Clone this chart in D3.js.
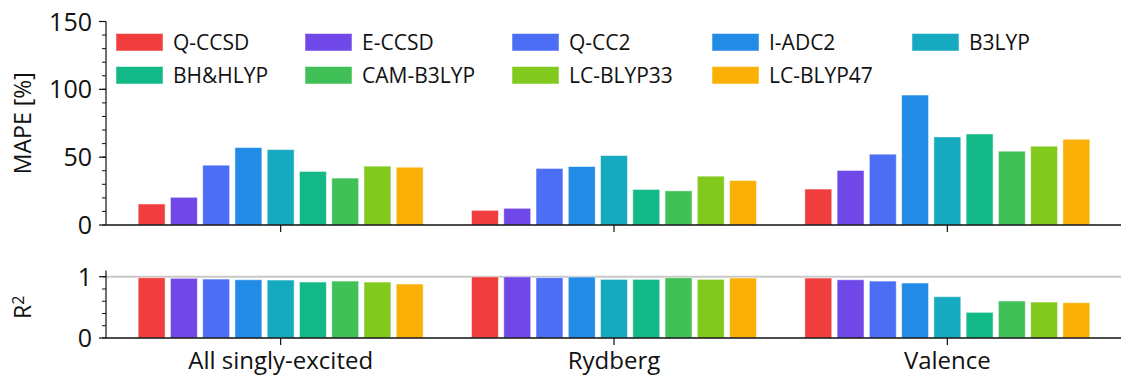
<!DOCTYPE html>
<html><head><meta charset="utf-8">
<script src="https://cdn.jsdelivr.net/npm/d3@7"></script>
<style>body{margin:0;background:#fff}svg{display:block}text{font-family:"Open Sans","Noto Sans",sans-serif;fill:#111}</style>
</head><body><svg id="c" width="1121" height="377"></svg>
<script>
const categories = ["All singly-excited", "Rydberg", "Valence"];
const methods = ["Q-CCSD","E-CCSD","Q-CC2","I-ADC2","B3LYP","BH&HLYP","CAM-B3LYP","LC-BLYP33","LC-BLYP47"];
const colors = ["#f03e3e","#7048e8","#4c6ef5","#228be6","#15aabf","#12b886","#40c057","#82c91e","#fab005"];
const mape = [
  [15.5, 20.4, 44.1, 57.1, 55.6, 39.5, 34.6, 43.4, 42.6],
  [10.8, 12.3, 41.7, 43.1, 51.2, 26.2, 25.2, 36.0, 32.8],
  [26.5, 40.2, 52.2, 95.8, 64.9, 67.1, 54.4, 58.1, 63.2]
];
const r2 = [
  [0.984, 0.974, 0.962, 0.951, 0.946, 0.913, 0.929, 0.913, 0.881],
  [0.998, 0.998, 0.985, 0.995, 0.957, 0.957, 0.984, 0.957, 0.979],
  [0.979, 0.951, 0.929, 0.897, 0.674, 0.419, 0.604, 0.587, 0.576]
];
const mapeTicks = [0, 50, 100, 150];
const r2Ticks = [0, 1];

const svg = d3.select("#c");
const axisX = 106, rightX = 1121;
const x0 = d3.scaleBand().domain(categories).range([114, 1114]).paddingInner(0).paddingOuter(0);
const x1 = d3.scaleBand().domain(methods).range([x0.bandwidth()/2 - 142.5, x0.bandwidth()/2 + 142.5]).paddingInner(0.165).paddingOuter(0);

const yTop = d3.scaleLinear().domain([0, 150]).range([225, 21.5]);
const yBot = d3.scaleLinear().domain([0, 1.1]).range([338, 270.6]);

function panel(y, data, majorTicks, minorTicks, domainTop) {
  const g = svg.append("g");
  categories.forEach((c, ci) => {
    const gg = g.append("g").attr("transform", `translate(${x0(c)},0)`);
    gg.selectAll("rect").data(data[ci]).join("rect")
      .attr("x", (d, i) => x1(methods[i]))
      .attr("width", x1.bandwidth())
      .attr("y", d => y(d))
      .attr("height", d => y(0) - y(d))
      .attr("fill", (d, i) => colors[i])
      .attr("stroke", "rgba(255,255,255,0.5)").attr("stroke-width", 1);
  });
  const ax = g.append("g").attr("transform", `translate(${axisX},0)`);
  ax.append("line").attr("x1", 0).attr("x2", 0).attr("y1", y(0)).attr("y2", y(domainTop)).attr("stroke", "#111").attr("stroke-width", 1.2);
  ax.selectAll("line.mn").data(minorTicks).join("line").attr("class","mn")
    .attr("x1", -4).attr("x2", 0).attr("y1", d => y(d)).attr("y2", d => y(d)).attr("stroke", "#111");
  ax.selectAll("line.mj").data(majorTicks).join("line").attr("class","mj")
    .attr("x1", -7).attr("x2", 0).attr("y1", d => y(d)).attr("y2", d => y(d)).attr("stroke", "#111").attr("stroke-width", 1.2);
  ax.selectAll("text").data(majorTicks).join("text")
    .attr("x", -14).attr("y", d => y(d)).attr("dy", "0.36em").attr("text-anchor", "end")
    .style("font-size", "25px").text(d => d);
  g.append("line").attr("x1", axisX).attr("x2", rightX).attr("y1", y(0)).attr("y2", y(0)).attr("stroke", "#111").attr("stroke-width", 1.5);
  g.selectAll("line.xt").data(categories).join("line").attr("class","xt")
    .attr("x1", d => x0(d) + x0.bandwidth()/2).attr("x2", d => x0(d) + x0.bandwidth()/2)
    .attr("y1", y(0)).attr("y2", y(0) + 7).attr("stroke", "#111").attr("stroke-width", 1.2);
  return g;
}

svg.append("line").attr("x1", axisX).attr("x2", rightX).attr("y1", yBot(1)).attr("y2", yBot(1))
  .attr("stroke", "#c8c8c8").attr("stroke-width", 2);

panel(yTop, mape, mapeTicks, d3.range(0, 151, 10), 150);
panel(yBot, r2, r2Ticks, d3.range(0, 1.01, 0.2), 1.1);

svg.append("text").attr("transform", `translate(31,${yTop(75)}) rotate(-90)`).attr("text-anchor", "middle")
  .style("font-size", "23px").text("MAPE [%]");
const rt = svg.append("text").attr("transform", `translate(31,${yBot(0.5)}) rotate(-90)`).attr("text-anchor", "middle")
  .style("font-size", "23px");
rt.append("tspan").text("R");
rt.append("tspan").attr("dy", "-0.45em").style("font-size", "16px").text("2");

svg.selectAll("text.cat").data(categories).join("text").attr("class","cat")
  .attr("x", d => x0(d) + x0.bandwidth()/2).attr("y", 369).attr("text-anchor", "middle")
  .style("font-size", "24px").text(d => d);

const legCols = [116, 305, 512, 712, 912];
const legRows = [42.5, 75.5];
methods.forEach((m, i) => {
  const col = i % 5, row = Math.floor(i / 5);
  const lx = legCols[col], ly = legRows[row];
  svg.append("rect").attr("x", lx).attr("y", ly - 9).attr("width", 47).attr("height", 17.5).attr("fill", colors[i])
    .attr("stroke", "rgba(255,255,255,0.5)");
  svg.append("text").attr("x", lx + 57).attr("y", ly).attr("dy", "0.36em").style("font-size", "21px").text(m);
});
</script></body></html>
